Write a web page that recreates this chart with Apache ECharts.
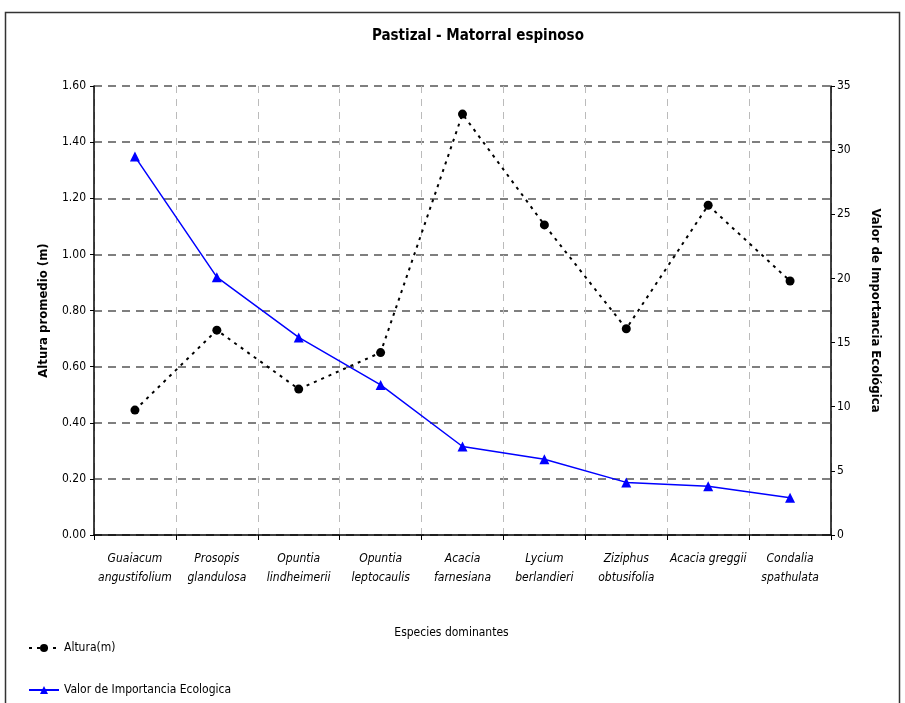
<!DOCTYPE html>
<html><head><meta charset="utf-8">
<script src="https://cdn.jsdelivr.net/npm/echarts@6/dist/echarts.min.js"></script>
<style>html,body{margin:0;padding:0;background:#fff}#c{width:905px;height:703px}</style>
</head><body><div id="c"></div>
<script>
const categories = ["Guaiacum\nangustifolium","Prosopis\nglandulosa","Opuntia\nlindheimerii","Opuntia\nleptocaulis","Acacia\nfarnesiana","Lycium\nberlandieri","Ziziphus\nobtusifolia","Acacia greggii","Condalia\nspathulata"];
const altura = [0.445, 0.73, 0.52, 0.65, 1.50, 1.105, 0.735, 1.175, 0.905];
const vie = [29.5, 20.1, 15.4, 11.7, 6.9, 5.9, 4.1, 3.8, 2.9];
const leftTicks = {min: 0, max: 1.6, interval: 0.2};
const rightTicks = {min: 0, max: 35, interval: 5};
const seriesNames = ['Altura(m)', 'Valor de Importancia Ecologica'];

const FONT = "'Liberation Sans Narrow', 'DejaVu Sans Condensed', 'Liberation Sans', Arial, sans-serif";
const legendBase = {orient: 'horizontal', left: 28, padding: 0, itemWidth: 30, itemHeight: 10,
  textStyle: {fontFamily: FONT, fontSize: 12, color: '#000'}};
const chart = echarts.init(document.getElementById('c'), null, {renderer: 'canvas'});
chart.setOption({
  animation: false,
  backgroundColor: '#fff',
  textStyle: {fontFamily: FONT},
  title: {text: 'Pastizal - Matorral espinoso', left: 367, top: 24,
    textStyle: {fontFamily: FONT, fontSize: 15, fontWeight: 'bold', color: '#000'}},
  graphic: [{type: 'rect', shape: {x: 5.5, y: 12.5, width: 894, height: 700},
    style: {fill: 'none', stroke: '#333', lineWidth: 1.5}, silent: true}],
  grid: {left: 94, right: 74, top: 86, bottom: 168, containLabel: false},
  legend: [
    Object.assign({}, legendBase, {top: 642, data: [{name: seriesNames[0]}]}),
    Object.assign({}, legendBase, {top: 684, data: [{name: seriesNames[1]}]})
  ],
  xAxis: {type: 'category', data: categories, boundaryGap: true,
    name: 'Especies dominantes', nameLocation: 'middle', nameGap: 92,
    nameTextStyle: {fontFamily: FONT, fontSize: 12, color: '#000', padding: [0, 22, 0, 0]},
    axisLine: {lineStyle: {color: '#000', width: 1.5}},
    axisTick: {show: true, interval: 0, length: 5, lineStyle: {color: '#000'}},
    axisLabel: {interval: 0, margin: 14, fontStyle: 'italic', fontSize: 12, color: '#000', lineHeight: 19, fontFamily: FONT},
    splitLine: {show: true, interval: 0, lineStyle: {color: '#bbb', type: [7, 6], width: 1}}},
  yAxis: [
    {type: 'value', min: leftTicks.min, max: leftTicks.max, interval: leftTicks.interval,
     name: 'Altura promedio (m)', nameLocation: 'middle', nameGap: 44,
     nameTextStyle: {fontFamily: FONT, fontSize: 13, fontWeight: 'bold', color: '#000'},
     axisLine: {show: true, lineStyle: {color: '#000', width: 1.5}},
     axisTick: {show: true, length: 4, lineStyle: {color: '#000'}},
     axisLabel: {formatter: v => v.toFixed(2), color: '#000', fontSize: 12, margin: 8, fontFamily: FONT},
     splitLine: {show: true, lineStyle: {color: '#555', type: [8, 6], width: 1.5}}},
    {type: 'value', min: rightTicks.min, max: rightTicks.max, interval: rightTicks.interval, position: 'right',
     name: 'Valor de Importancia Ecológica', nameLocation: 'middle', nameGap: 38, nameRotate: -90,
     nameTextStyle: {fontFamily: FONT, fontSize: 13, fontWeight: 'bold', color: '#000'},
     axisLine: {show: true, lineStyle: {color: '#000', width: 1.5}},
     axisTick: {show: true, length: 4, lineStyle: {color: '#000'}},
     axisLabel: {color: '#000', fontSize: 12, margin: 6, fontFamily: FONT},
     splitLine: {show: false}}
  ],
  series: [
    {name: seriesNames[0], type: 'line', yAxisIndex: 0, data: altura,
     symbol: 'circle', symbolSize: 9, itemStyle: {color: '#000'},
     lineStyle: {color: '#000', width: 2, type: [3, 5]}},
    {name: seriesNames[1], type: 'line', yAxisIndex: 1, data: vie,
     symbol: 'triangle', symbolSize: 10, itemStyle: {color: '#0000ff'},
     lineStyle: {color: '#0000ff', width: 1.5}}
  ]
});
</script></body></html>
